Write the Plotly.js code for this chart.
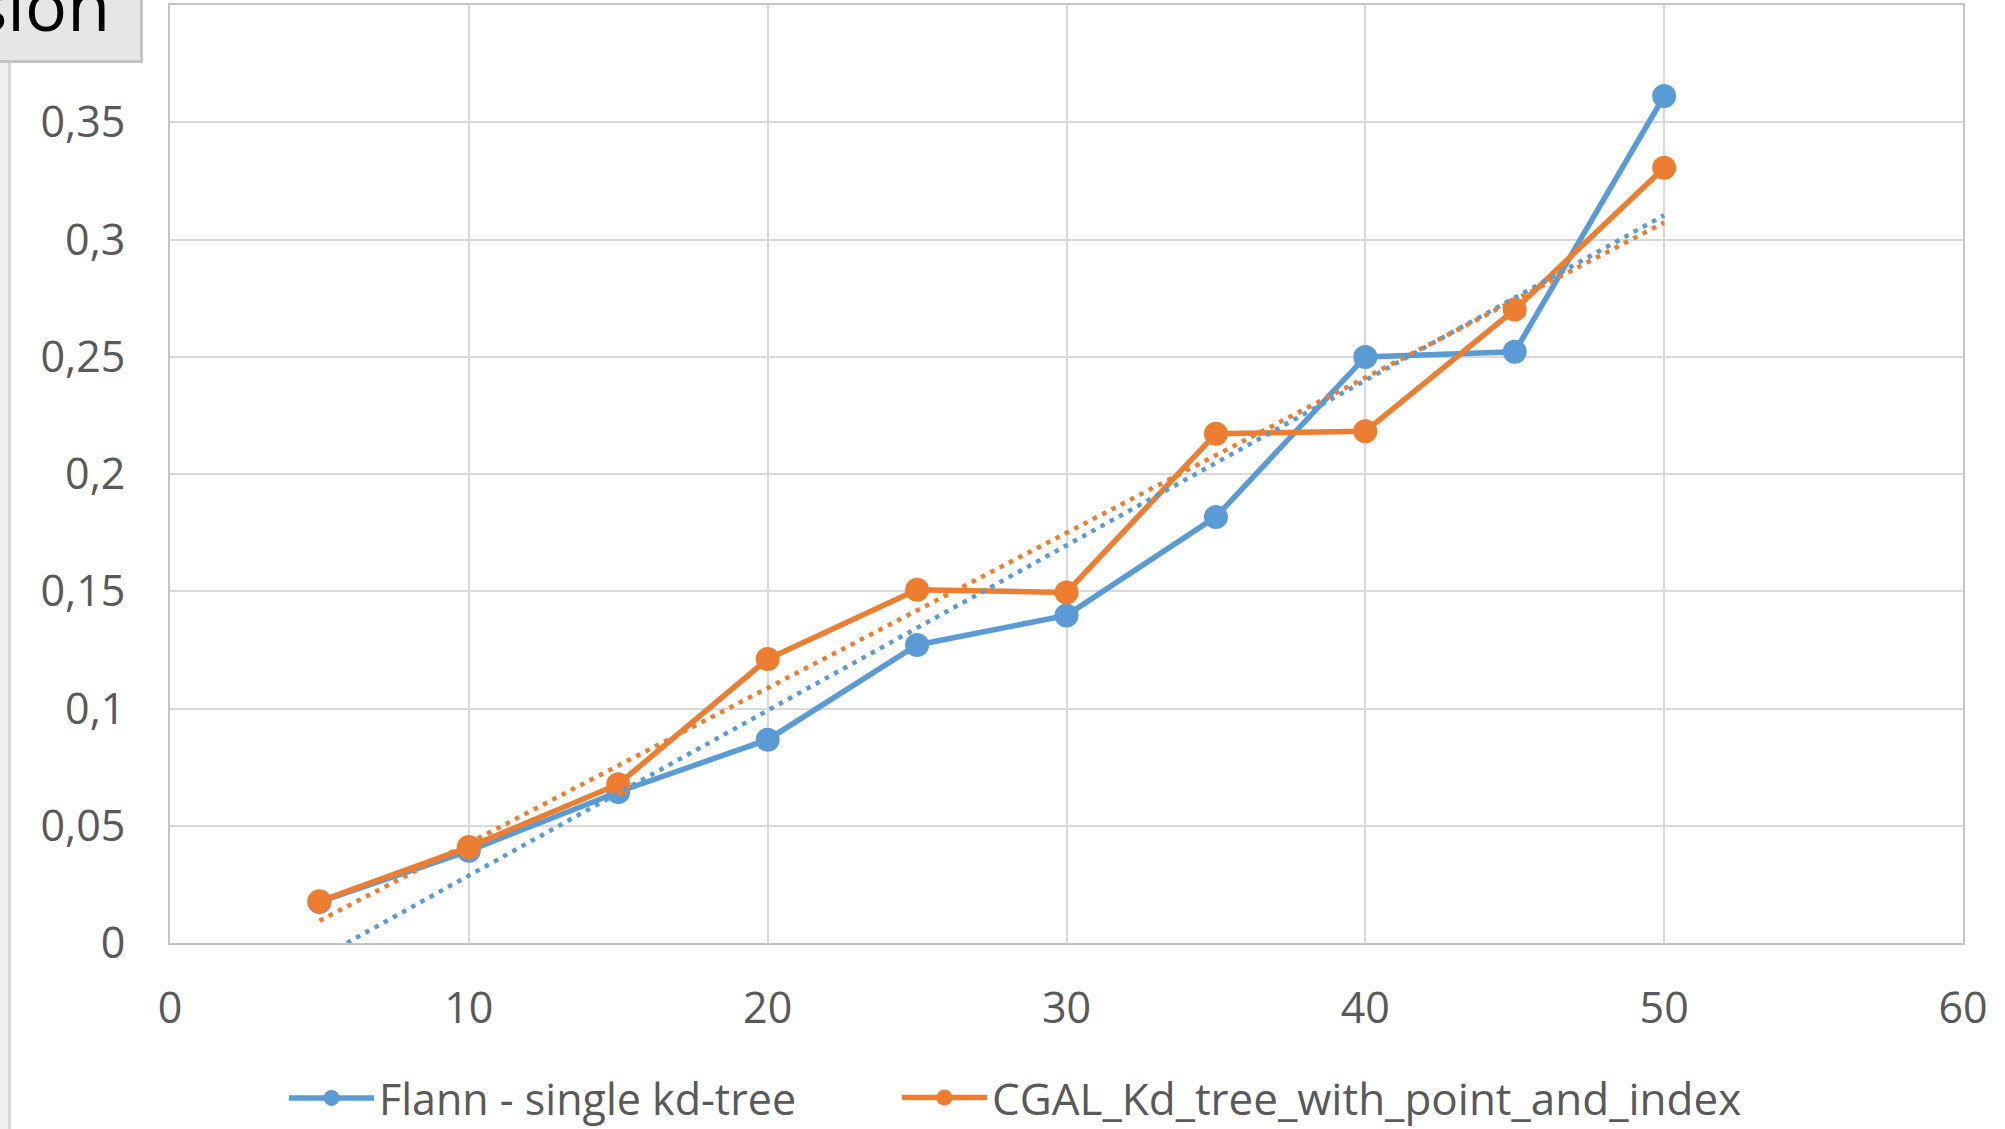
<!DOCTYPE html>
<html>
<head>
<meta charset="utf-8">
<script src="https://cdn.plot.ly/plotly-3.0.1.min.js"></script>
<style>html,body{margin:0;padding:0;background:#fff;}#chart{width:2005px;height:1129px;}</style>
</head>
<body>
<div id="chart"></div>
<script>
// ---- data ----
const xValues = [5, 10, 15, 20, 25, 30, 35, 40, 45, 50];
const flannValues = [0.0175, 0.0393, 0.0644, 0.0867, 0.1271, 0.1397, 0.1817, 0.2499, 0.2521, 0.3612];
const cgalValues = [0.0178, 0.0409, 0.0677, 0.1211, 0.1506, 0.1495, 0.2172, 0.2182, 0.2701, 0.3306];
const seriesNames = ["Flann - single kd-tree", "CGAL_Kd_tree_with_point_and_index"];
const xTickVals = [0, 10, 20, 30, 40, 50, 60];
const xTickText = ["0", "10", "20", "30", "40", "50", "60"];
const yTickVals = [0, 0.05, 0.1, 0.15, 0.2, 0.25, 0.3, 0.35];
const yTickText = ["0", "0,05", "0,1", "0,15", "0,2", "0,25", "0,3", "0,35"];
const cornerText = "sion";

// linear least-squares trendline (as the spreadsheet's linear trendline)
function linearFit(xs, ys) {
  const n = xs.length;
  const mx = xs.reduce((a, b) => a + b, 0) / n;
  const my = ys.reduce((a, b) => a + b, 0) / n;
  let sxy = 0, sxx = 0;
  for (let i = 0; i < n; i++) { sxy += (xs[i] - mx) * (ys[i] - my); sxx += (xs[i] - mx) ** 2; }
  const slope = sxy / sxx, icpt = my - slope * mx;
  const x0 = Math.min(...xs), x1 = Math.max(...xs);
  return { x: [x0, x1], y: [icpt + slope * x0, icpt + slope * x1] };
}

const BLUE = "#5B9BD5", ORANGE = "#ED7D31";
const W = 2005, H = 1129, L = 170, R = 1963, T = 5, B = 943;
const PW = R - L, PH = B - T;
const px = v => (v - L) / PW;
const py = v => (B - v) / PH;

const fb = linearFit(xValues, flannValues);
const fc = linearFit(xValues, cgalValues);

const traces = [
  { x: xValues, y: flannValues, name: seriesNames[0], type: "scatter", mode: "lines+markers", legend: "legend",
    line: { color: BLUE, width: 5.5 }, marker: { color: BLUE, size: 24 } },
  { x: xValues, y: cgalValues, name: seriesNames[1], type: "scatter", mode: "lines+markers", legend: "legend2",
    line: { color: ORANGE, width: 5.5 }, marker: { color: ORANGE, size: 24 } },
  { x: fb.x, y: fb.y, type: "scatter", mode: "lines", showlegend: false, hoverinfo: "skip",
    line: { color: BLUE, width: 4.5, dash: "4.5px,6px" } },
  { x: fc.x, y: fc.y, type: "scatter", mode: "lines", showlegend: false, hoverinfo: "skip",
    line: { color: ORANGE, width: 4.5, dash: "4.5px,6px" } }
];

const tickFont = { family: "Open Sans, sans-serif", size: 43, color: "#595959" };

function legendAt(xpx, size) {
  return {
    orientation: "h", x: px(xpx), xanchor: "left", y: py(1098), yanchor: "middle",
    font: { family: "Open Sans, sans-serif", size: size, color: "#595959" },
    itemwidth: 85, bgcolor: "rgba(0,0,0,0)", borderwidth: 0
  };
}

const layout = {
  width: W, height: H,
  margin: { l: L, r: W - R, t: T, b: H - B, pad: 0, autoexpand: false },
  paper_bgcolor: "#ffffff", plot_bgcolor: "#ffffff",
  showlegend: true,
  xaxis: {
    range: [0, 60], tickvals: xTickVals, ticktext: xTickText, ticks: "",
    showgrid: true, gridcolor: "#d9d9d9", gridwidth: 2,
    showline: true, linecolor: "#c4c4c4", linewidth: 2, mirror: true,
    zeroline: false, tickfont: tickFont, ticklabelstandoff: 26, fixedrange: true
  },
  yaxis: {
    range: [0, 0.4], tickvals: yTickVals, ticktext: yTickText, ticks: "",
    showgrid: true, gridcolor: "#d9d9d9", gridwidth: 2,
    showline: true, linecolor: "#c4c4c4", linewidth: 2, mirror: true,
    zeroline: false, tickfont: tickFont, ticklabelstandoff: 34, fixedrange: true
  },
  legend: legendAt(284, 43),
  legend2: legendAt(897, 44),
  shapes: [
    { type: "rect", xref: "paper", yref: "paper", x0: px(-2), x1: px(8), y0: py(1135), y1: py(63),
      fillcolor: "#f0f0f0", line: { width: 0 }, layer: "above" },
    { type: "line", xref: "paper", yref: "paper", x0: px(9.5), x1: px(9.5), y0: py(1135), y1: py(63),
      line: { color: "#d6d6d6", width: 3 }, layer: "above" },
    { type: "rect", xref: "paper", yref: "paper", x0: px(-5), x1: px(141.5), y0: py(61.5), y1: py(-5),
      fillcolor: "#e6e6e6", line: { color: "#c4c4c4", width: 3 }, layer: "above" }
  ],
  annotations: [
    { text: cornerText, xref: "paper", yref: "paper", x: px(112), xanchor: "right",
      y: py(4), yanchor: "middle", showarrow: false,
      font: { family: "Open Sans, sans-serif", size: 70, color: "#000000" } }
  ]
};

Plotly.newPlot("chart", traces, layout, { staticPlot: true, displayModeBar: false });
</script>
</body>
</html>
